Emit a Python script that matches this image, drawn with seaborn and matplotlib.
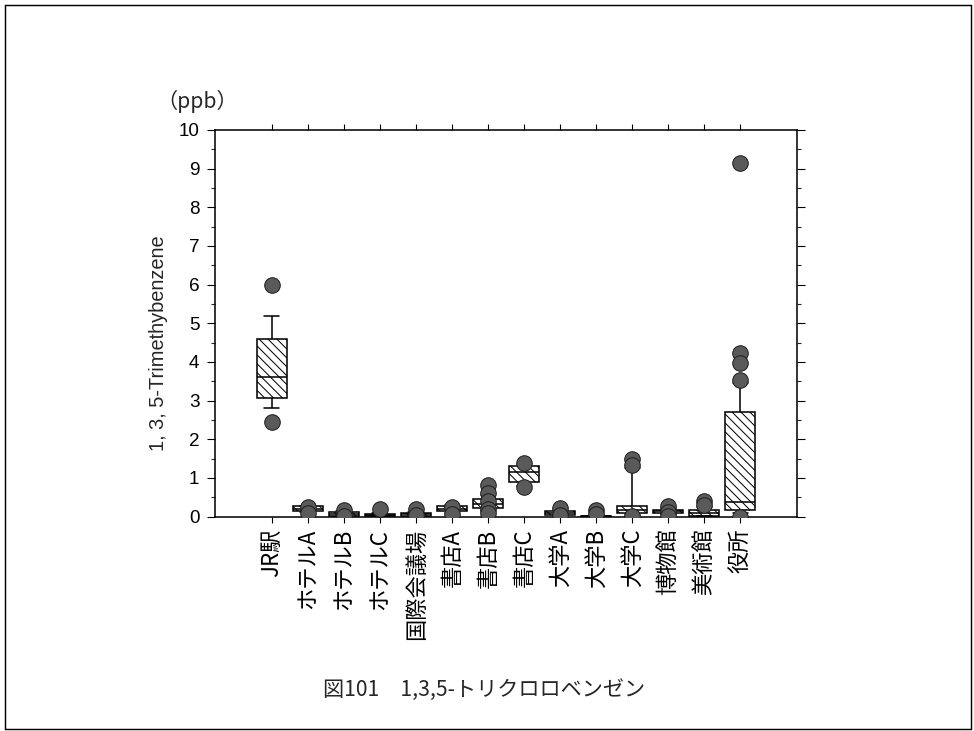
import numpy as np
import pandas as pd
import matplotlib
matplotlib.use("Agg")
import matplotlib.pyplot as plt
import seaborn as sns
from matplotlib.patches import Rectangle
from matplotlib.ticker import MultipleLocator

# ---- data ----
categories = ["JR駅", "ホテルA", "ホテルB", "ホテルC", "国際会議場", "書店A", "書店B",
              "書店C", "大学A", "大学B", "大学C", "博物館", "美術館", "役所"]
whisker_low = [2.82, 0.12, 0.02, 0.01, 0.02, 0.10, 0.15, 0.80, 0.02, 0.00, 0.05, 0.06, 0.02, 0.08]
q1 = [3.07, 0.14, 0.02, 0.01, 0.02, 0.13, 0.22, 0.88, 0.04, 0.00, 0.10, 0.09, 0.02, 0.16]
median = [3.61, 0.20, 0.06, 0.03, 0.06, 0.20, 0.33, 1.14, 0.10, 0.01, 0.18, 0.13, 0.08, 0.38]
q3 = [4.60, 0.26, 0.11, 0.07, 0.10, 0.27, 0.46, 1.31, 0.15, 0.02, 0.26, 0.18, 0.16, 2.70]
whisker_high = [5.20, 0.28, 0.13, 0.10, 0.12, 0.30, 0.55, 1.35, 0.18, 0.03, 1.25, 0.22, 0.25, 3.45]

outlier_site = ["JR駅", "JR駅",
                "ホテルA", "ホテルA",
                "ホテルB", "ホテルB",
                "ホテルC",
                "国際会議場", "国際会議場",
                "書店A", "書店A",
                "書店B", "書店B", "書店B", "書店B", "書店B",
                "書店C", "書店C",
                "大学A", "大学A",
                "大学B", "大学B",
                "大学C", "大学C", "大学C",
                "博物館", "博物館", "博物館",
                "美術館", "美術館",
                "役所", "役所", "役所", "役所", "役所"]
outlier_value = [6.00, 2.45,
                 0.25, 0.08,
                 0.18, 0.02,
                 0.20,
                 0.20, 0.05,
                 0.24, 0.07,
                 0.82, 0.60, 0.40, 0.20, 0.08,
                 1.38, 0.76,
                 0.22, 0.05,
                 0.18, 0.06,
                 1.50, 1.32, 0.02,
                 0.27, 0.12, 0.02,
                 0.41, 0.30,
                 9.14, 4.24, 3.96, 3.53, 0.00]

y_label = "1, 3, 5-Trimethybenzene"
unit_label = "（ppb）"
caption = "図101　1,3,5-トリクロロベンゼン"

# ---- style ----
sns.set_style("ticks")
plt.rcParams['font.family'] = ['Liberation Sans', 'Noto Sans CJK JP', 'DejaVu Sans']
plt.rcParams['hatch.linewidth'] = 0.9
plt.rcParams['hatch.color'] = 'black'

rows = []
for c, a, b, m, d, e in zip(categories, whisker_low, q1, median, q3, whisker_high):
    for v in (a, b, m, d, e):
        rows.append({"site": c, "value": v})
box_df = pd.DataFrame(rows)
pts_df = pd.DataFrame({"site": outlier_site, "value": outlier_value})

DPI = 80
fig = plt.figure(figsize=(974 / DPI, 731 / DPI), dpi=DPI)
fig.patch.set_facecolor('white')
ax = fig.add_axes([215 / 974, 1 - 516.5 / 731, (797 - 215) / 974, (516.5 - 130) / 731])

sns.boxplot(data=box_df, x="site", y="value", order=categories, whis=np.inf,
            width=0.83, color="white", linecolor="black", linewidth=1.4,
            showfliers=False, saturation=1, ax=ax)
for p in ax.patches:
    p.set_hatch('\\\\\\')
    p.set_facecolor('white')
    p.set_edgecolor('black')

sns.stripplot(data=pts_df, x="site", y="value", order=categories, jitter=False,
              color="#5a5a5a", edgecolor="#1e1e1e", linewidth=0.9, size=14,
              ax=ax, zorder=5)

ax.set_xlim(-1.58, 14.58)
ax.set_ylim(0, 10)
ax.yaxis.set_major_locator(MultipleLocator(1))
ax.yaxis.set_minor_locator(MultipleLocator(0.5))
ax.set_yticks(range(0, 11))
ax.set_yticklabels([str(v) for v in range(0, 11)], fontsize=17,
                   family=['Liberation Sans', 'DejaVu Sans'])
ax.set_xticks(range(len(categories)))
ax.set_xticklabels(categories, rotation=90, fontsize=20,
                   family=['Noto Sans CJK JP', 'DejaVu Sans'])
ax.set_xlabel("")
ax.set_ylabel(y_label, fontsize=18, family=['Liberation Sans', 'DejaVu Sans'])
ax.yaxis.set_label_coords(-0.08, 0.449)

for s in ax.spines.values():
    s.set_visible(True)
    s.set_linewidth(1.4)
    s.set_color('black')

ax.tick_params(axis='both', which='major', direction='out', length=7, width=1.0,
               color='black', labelcolor='black')
ax.tick_params(axis='y', which='major', pad=7, left=True, right=True, labelright=False)
ax.tick_params(axis='y', which='minor', direction='out', length=4, width=1.0,
               left=True, right=True)
ax.tick_params(axis='x', which='major', length=5, pad=6, top=True, bottom=True, labeltop=False)
ax.grid(False)

fig.text(197 / 974, 1 - 101 / 731, unit_label, ha='center', va='center',
         fontsize=19, family=['Noto Sans CJK JP', 'DejaVu Sans'])
fig.text(484 / 974, 1 - 690 / 731, caption, ha='center', va='center',
         fontsize=19, family=['Noto Sans CJK JP', 'DejaVu Sans'])

fig.patches.append(Rectangle((5 / 974, 1 - 729 / 731), (971 - 5) / 974, (729 - 5) / 731,
                             transform=fig.transFigure, fill=False, lw=1.3,
                             edgecolor='black'))

fig.savefig("out.png", dpi=DPI, facecolor='white')
